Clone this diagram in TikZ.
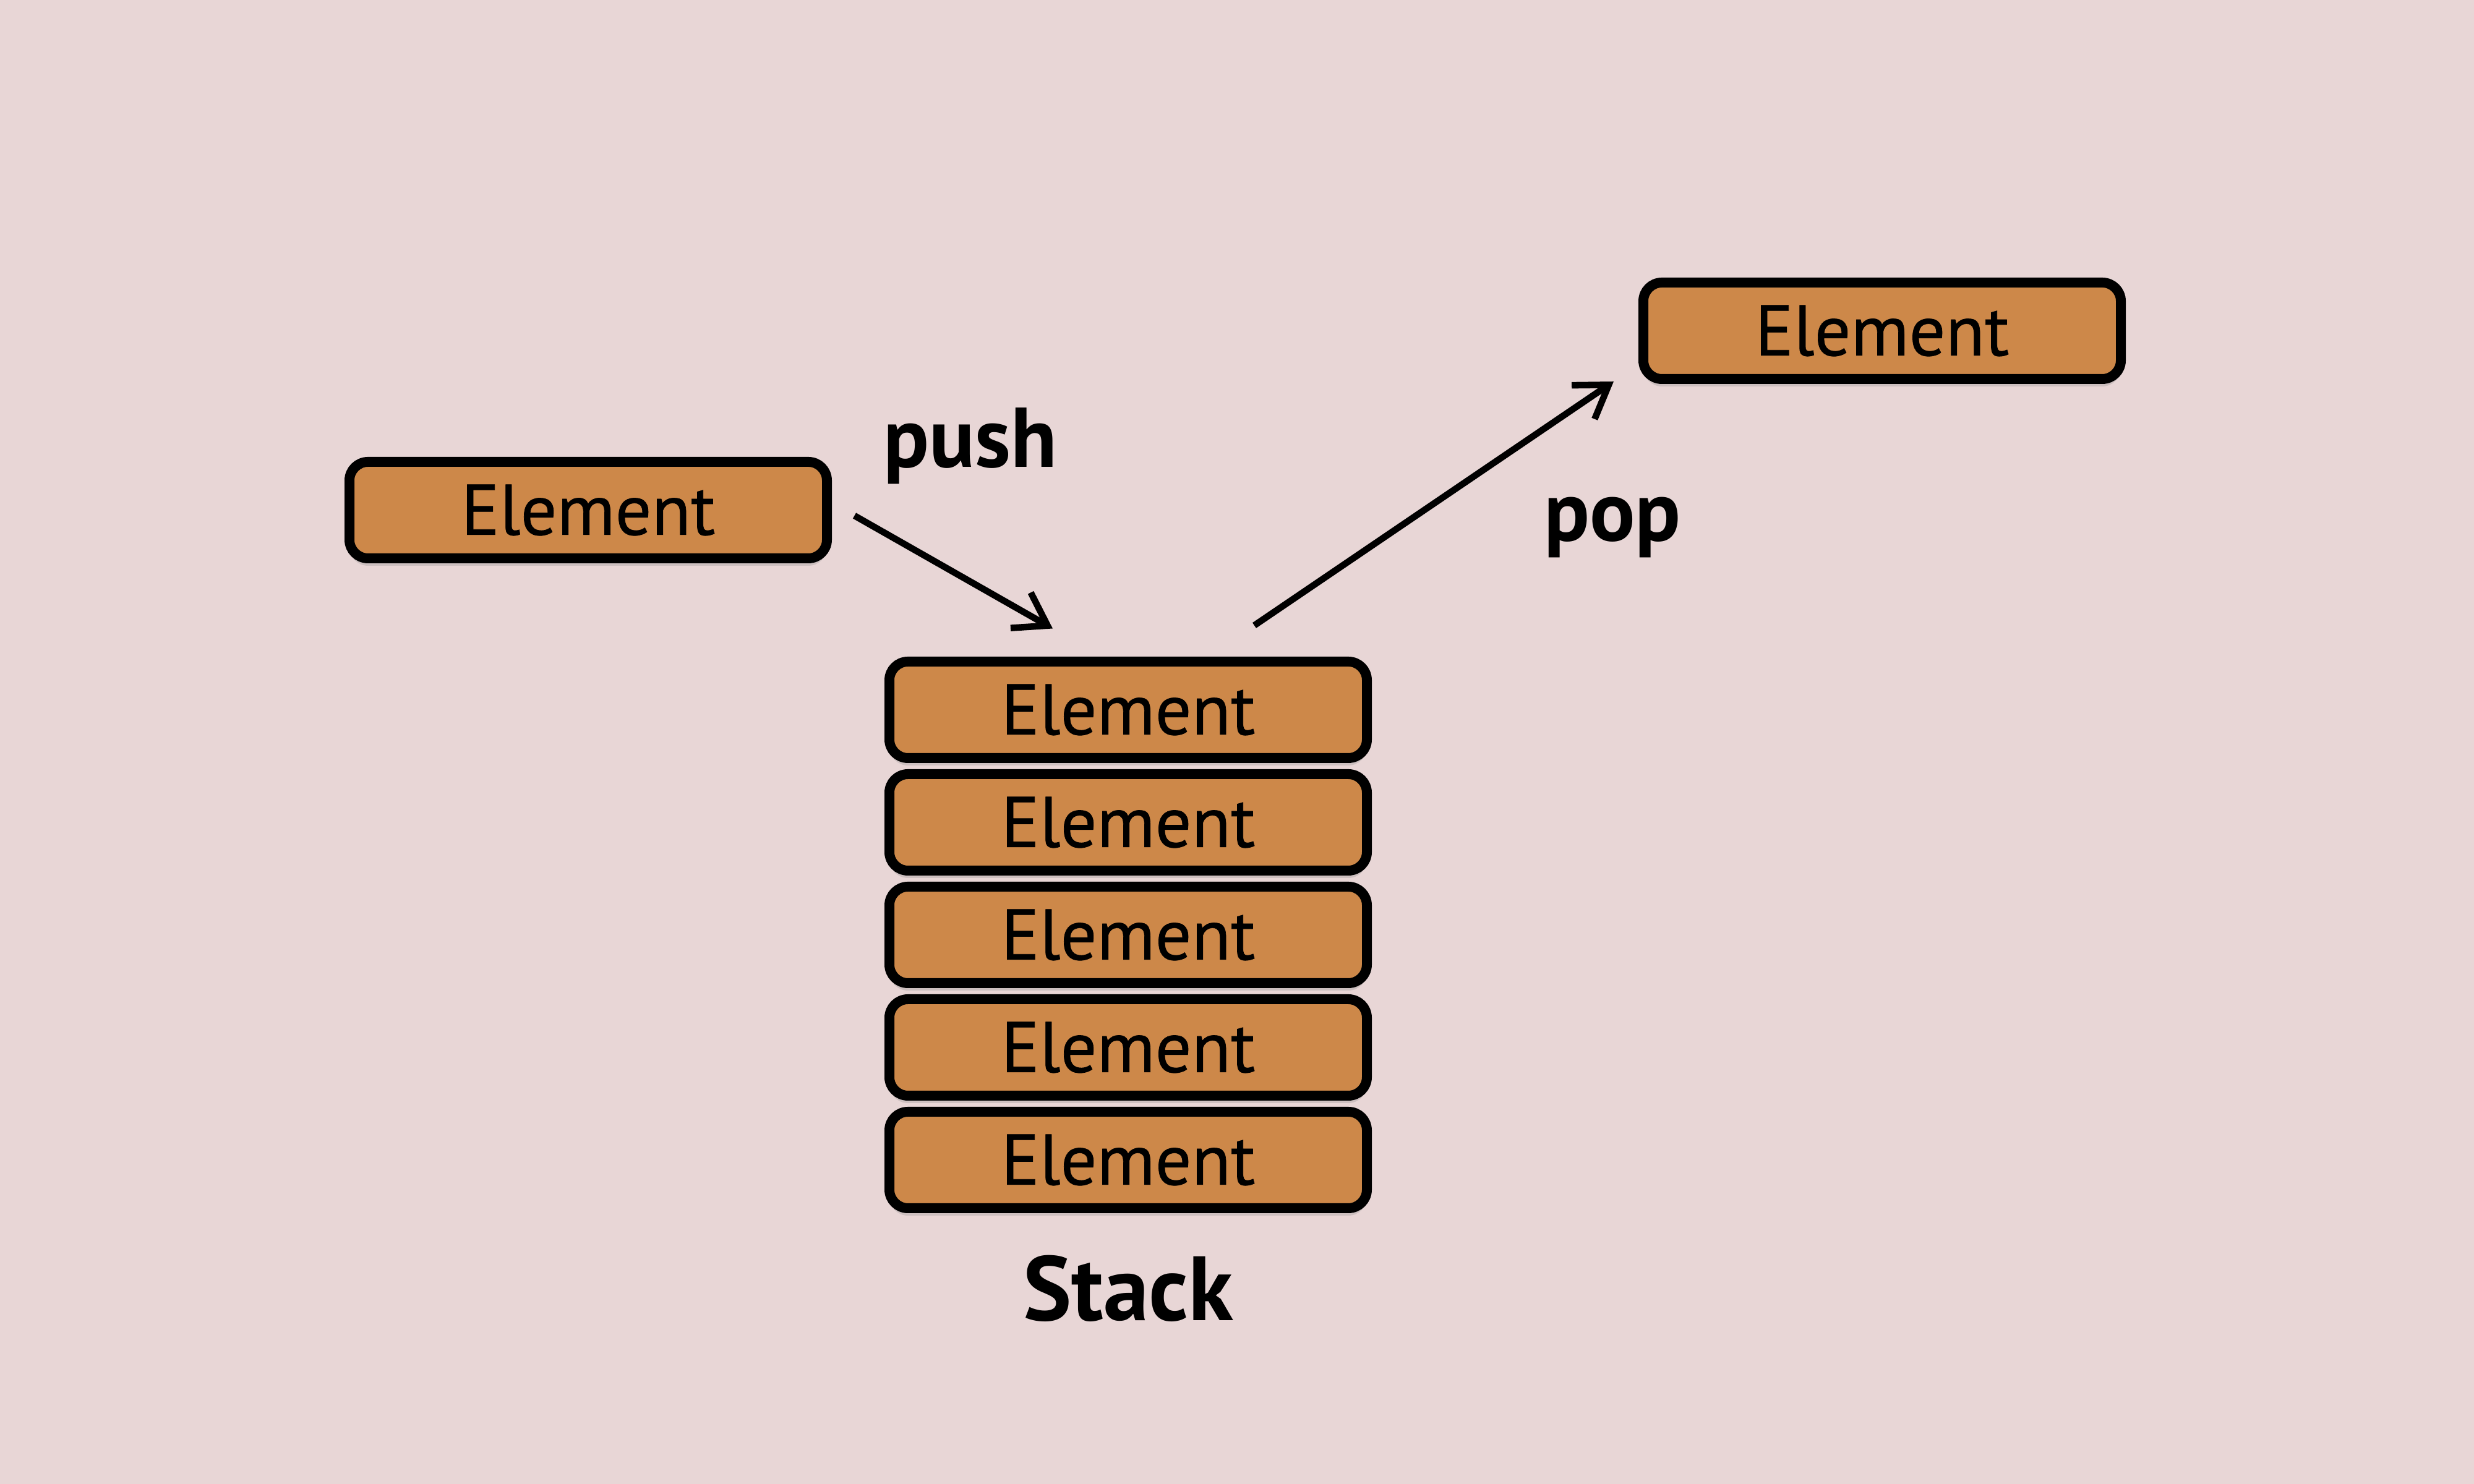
\documentclass[tikz,border=0pt]{standalone}
\usepackage{fontspec}
\setmainfont{PT Sans}
\newfontfamily\elemfont[FakeBold=0.6]{PT Sans}
\usetikzlibrary{positioning,shadows,arrows.meta}
\definecolor{bgpink}{RGB}{232,214,214}
\definecolor{elemfill}{RGB}{205,136,73}
\tikzstyle{element}=[draw, line width=0.16cm, fill=elemfill, rounded corners=0.3cm,
                     minimum width=7.72cm, minimum height=1.56cm, inner sep=0,
                     font=\elemfont\fontsize{33}{40}\selectfont,
                     % Soft shadow under each box.
                     drop shadow={shadow xshift=0cm, shadow yshift=-0.12cm, opacity=0.25}]
\tikzstyle{oplabel}=[inner sep=0, font=\fontsize{39}{46}\selectfont\bfseries]
\tikzstyle{oparrow}=[line width=3pt, -{Straight Barb[length=0.5cm, width=0.66cm]}]
\begin{document}
\begin{tikzpicture}
        \fill[bgpink] (0, 0) rectangle (40, 24);
        \useasboundingbox (0, 0) rectangle (40, 24);
        \node[element]               (pushed) at (9.51, 15.75) {Element};
        \node[element]               (popped) at (30.43, 18.65) {Element};
        \node[element]               (S1) at (18.24, 12.52) {Element};
        \node[element, below=0.1cm of S1] (S2) {Element};
        \node[element, below=0.1cm of S2] (S3) {Element};
        \node[element, below=0.1cm of S3] (S4) {Element};
        \node[element, below=0.1cm of S4] (S5) {Element};
        \node[oplabel]               (pushlabel) at (15.69, 16.79) {push};
        \node[oplabel]               (poplabel) at (26.07, 15.47) {pop};
        \node[oplabel, font=\fontsize{42}{50}\selectfont\bfseries] (stacklabel) at (18.24, 3.16) {Stack};
        \draw[oparrow] ([shift={(0.365, -0.09)}]pushed.east) -- ([shift={(-1.22, 0.455)}]S1.north);
        \draw[oparrow] ([shift={(2.04, 0.505)}]S1.north) -- ([shift={(-0.4, -0.82)}]popped.west);
    \end{tikzpicture}
\end{document}
